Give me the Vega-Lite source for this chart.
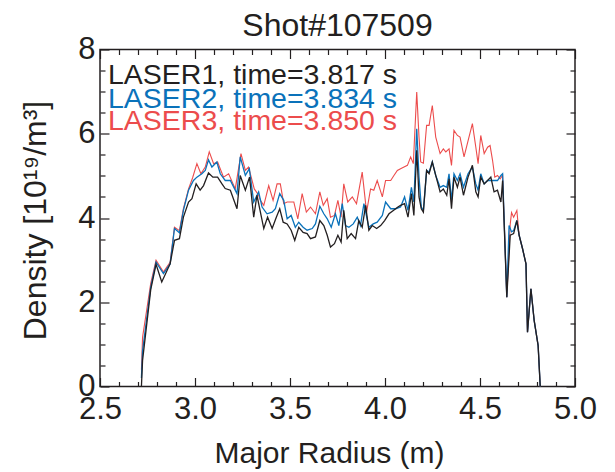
{
"$schema": "https://vega.github.io/schema/vega-lite/v6.json",
"width": 475, "height": 337,
"autosize": {"type": "none"},
"padding": {"left": 100, "top": 49.5, "right": 40, "bottom": 85.5},
"background": "white",
"title": {"text": "Shot#107509", "fontSize": 32, "font": "Liberation Sans", "fontWeight": "normal", "color": "#231f20", "anchor": "middle", "baseline": "alphabetic", "offset": -34},
"config": {
  "view": {"stroke": "#231f20", "strokeWidth": 1.5},
  "axis": {"grid": false, "domain": false, "tickColor": "#231f20", "tickWidth": 1.2, "labelFont": "Liberation Sans", "labelFontSize": 31, "labelColor": "#231f20", "titleFont": "Liberation Sans", "titleFontWeight": "normal", "titleColor": "#231f20"}
},
"datasets": {
"lines": [
{"s":"LASER1","r":2.718,"n":0},{"s":"LASER1","r":2.724,"n":0.62},{"s":"LASER1","r":2.767,"n":2.30},{"s":"LASER1","r":2.795,"n":2.90},{"s":"LASER1","r":2.825,"n":2.48},{"s":"LASER1","r":2.869,"n":2.91},{"s":"LASER1","r":2.892,"n":3.47},{"s":"LASER1","r":2.918,"n":3.51},{"s":"LASER1","r":2.939,"n":4.02},{"s":"LASER1","r":2.966,"n":4.38},{"s":"LASER1","r":2.984,"n":4.46},{"s":"LASER1","r":3.006,"n":4.81},{"s":"LASER1","r":3.027,"n":4.66},{"s":"LASER1","r":3.045,"n":4.77},{"s":"LASER1","r":3.071,"n":5.07},{"s":"LASER1","r":3.094,"n":4.97},{"s":"LASER1","r":3.119,"n":4.97},{"s":"LASER1","r":3.142,"n":4.81},{"s":"LASER1","r":3.159,"n":4.70},{"s":"LASER1","r":3.186,"n":4.66},{"s":"LASER1","r":3.221,"n":4.22},{"s":"LASER1","r":3.238,"n":5.01},{"s":"LASER1","r":3.265,"n":4.66},{"s":"LASER1","r":3.287,"n":4.97},{"s":"LASER1","r":3.309,"n":4.02},{"s":"LASER1","r":3.326,"n":4.54},{"s":"LASER1","r":3.362,"n":3.75},{"s":"LASER1","r":3.382,"n":4.02},{"s":"LASER1","r":3.406,"n":3.75},{"s":"LASER1","r":3.428,"n":4.02},{"s":"LASER1","r":3.446,"n":4.22},{"s":"LASER1","r":3.464,"n":3.90},{"s":"LASER1","r":3.485,"n":3.86},{"s":"LASER1","r":3.506,"n":3.71},{"s":"LASER1","r":3.525,"n":3.47},{"s":"LASER1","r":3.546,"n":3.78},{"s":"LASER1","r":3.569,"n":3.66},{"s":"LASER1","r":3.590,"n":3.63},{"s":"LASER1","r":3.608,"n":3.51},{"s":"LASER1","r":3.634,"n":3.55},{"s":"LASER1","r":3.657,"n":3.94},{"s":"LASER1","r":3.678,"n":3.82},{"s":"LASER1","r":3.696,"n":3.59},{"s":"LASER1","r":3.713,"n":3.31},{"s":"LASER1","r":3.734,"n":3.39},{"s":"LASER1","r":3.752,"n":3.59},{"s":"LASER1","r":3.769,"n":3.43},{"s":"LASER1","r":3.783,"n":4.18},{"s":"LASER1","r":3.801,"n":3.51},{"s":"LASER1","r":3.822,"n":3.63},{"s":"LASER1","r":3.845,"n":3.51},{"s":"LASER1","r":3.862,"n":3.94},{"s":"LASER1","r":3.880,"n":3.78},{"s":"LASER1","r":3.898,"n":4.30},{"s":"LASER1","r":3.915,"n":3.71},{"s":"LASER1","r":3.933,"n":3.82},{"s":"LASER1","r":3.956,"n":3.75},{"s":"LASER1","r":3.977,"n":3.82},{"s":"LASER1","r":3.998,"n":3.94},{"s":"LASER1","r":4.021,"n":4.10},{"s":"LASER1","r":4.044,"n":4.18},{"s":"LASER1","r":4.068,"n":4.26},{"s":"LASER1","r":4.082,"n":4.30},{"s":"LASER1","r":4.103,"n":4.34},{"s":"LASER1","r":4.121,"n":4.02},{"s":"LASER1","r":4.139,"n":4.58},{"s":"LASER1","r":4.152,"n":4.06},{"s":"LASER1","r":4.167,"n":5.61},{"s":"LASER1","r":4.179,"n":4.50},{"s":"LASER1","r":4.191,"n":4.22},{"s":"LASER1","r":4.202,"n":4.14},{"s":"LASER1","r":4.219,"n":5.13},{"s":"LASER1","r":4.232,"n":5.05},{"s":"LASER1","r":4.249,"n":5.33},{"s":"LASER1","r":4.267,"n":5.01},{"s":"LASER1","r":4.290,"n":4.62},{"s":"LASER1","r":4.307,"n":4.69},{"s":"LASER1","r":4.325,"n":4.54},{"s":"LASER1","r":4.337,"n":4.93},{"s":"LASER1","r":4.350,"n":4.22},{"s":"LASER1","r":4.363,"n":4.97},{"s":"LASER1","r":4.381,"n":4.73},{"s":"LASER1","r":4.395,"n":4.97},{"s":"LASER1","r":4.413,"n":4.54},{"s":"LASER1","r":4.437,"n":4.97},{"s":"LASER1","r":4.460,"n":5.25},{"s":"LASER1","r":4.478,"n":4.62},{"s":"LASER1","r":4.490,"n":4.50},{"s":"LASER1","r":4.504,"n":4.97},{"s":"LASER1","r":4.522,"n":4.81},{"s":"LASER1","r":4.540,"n":4.89},{"s":"LASER1","r":4.557,"n":4.97},{"s":"LASER1","r":4.574,"n":4.62},{"s":"LASER1","r":4.592,"n":4.66},{"s":"LASER1","r":4.610,"n":4.38},{"s":"LASER1","r":4.619,"n":4.89},{"s":"LASER1","r":4.641,"n":2.12},{"s":"LASER1","r":4.659,"n":3.59},{"s":"LASER1","r":4.677,"n":3.63},{"s":"LASER1","r":4.694,"n":3.94},{"s":"LASER1","r":4.706,"n":3.59},{"s":"LASER1","r":4.724,"n":3.27},{"s":"LASER1","r":4.742,"n":2.91},{"s":"LASER1","r":4.750,"n":1.29},{"s":"LASER1","r":4.768,"n":2.32},{"s":"LASER1","r":4.785,"n":1.57},{"s":"LASER1","r":4.806,"n":0.97},{"s":"LASER1","r":4.817,"n":0},
{"s":"LASER2","r":2.718,"n":0.2},{"s":"LASER2","r":2.724,"n":0.85},{"s":"LASER2","r":2.767,"n":2.36},{"s":"LASER2","r":2.795,"n":2.95},{"s":"LASER2","r":2.834,"n":2.68},{"s":"LASER2","r":2.869,"n":2.91},{"s":"LASER2","r":2.892,"n":3.75},{"s":"LASER2","r":2.918,"n":3.65},{"s":"LASER2","r":2.939,"n":4.18},{"s":"LASER2","r":2.966,"n":4.66},{"s":"LASER2","r":2.992,"n":4.89},{"s":"LASER2","r":3.010,"n":4.97},{"s":"LASER2","r":3.036,"n":5.05},{"s":"LASER2","r":3.054,"n":5.13},{"s":"LASER2","r":3.071,"n":5.38},{"s":"LASER2","r":3.089,"n":5.21},{"s":"LASER2","r":3.115,"n":5.33},{"s":"LASER2","r":3.133,"n":5.05},{"s":"LASER2","r":3.159,"n":4.89},{"s":"LASER2","r":3.186,"n":4.89},{"s":"LASER2","r":3.221,"n":4.58},{"s":"LASER2","r":3.238,"n":5.45},{"s":"LASER2","r":3.265,"n":5.01},{"s":"LASER2","r":3.286,"n":5.17},{"s":"LASER2","r":3.309,"n":4.38},{"s":"LASER2","r":3.335,"n":4.62},{"s":"LASER2","r":3.353,"n":4.26},{"s":"LASER2","r":3.379,"n":4.10},{"s":"LASER2","r":3.406,"n":4.14},{"s":"LASER2","r":3.423,"n":4.22},{"s":"LASER2","r":3.446,"n":4.58},{"s":"LASER2","r":3.467,"n":4.42},{"s":"LASER2","r":3.485,"n":3.98},{"s":"LASER2","r":3.506,"n":4.06},{"s":"LASER2","r":3.528,"n":3.78},{"s":"LASER2","r":3.546,"n":3.90},{"s":"LASER2","r":3.569,"n":3.78},{"s":"LASER2","r":3.590,"n":3.71},{"s":"LASER2","r":3.617,"n":3.75},{"s":"LASER2","r":3.634,"n":3.86},{"s":"LASER2","r":3.657,"n":4.28},{"s":"LASER2","r":3.678,"n":4.10},{"s":"LASER2","r":3.696,"n":3.98},{"s":"LASER2","r":3.717,"n":3.78},{"s":"LASER2","r":3.739,"n":4.10},{"s":"LASER2","r":3.757,"n":3.82},{"s":"LASER2","r":3.775,"n":4.34},{"s":"LASER2","r":3.792,"n":3.82},{"s":"LASER2","r":3.810,"n":3.78},{"s":"LASER2","r":3.833,"n":3.86},{"s":"LASER2","r":3.854,"n":4.02},{"s":"LASER2","r":3.871,"n":3.82},{"s":"LASER2","r":3.889,"n":4.34},{"s":"LASER2","r":3.915,"n":3.78},{"s":"LASER2","r":3.938,"n":3.86},{"s":"LASER2","r":3.959,"n":3.90},{"s":"LASER2","r":3.986,"n":4.06},{"s":"LASER2","r":4.003,"n":4.38},{"s":"LASER2","r":4.030,"n":4.22},{"s":"LASER2","r":4.056,"n":4.22},{"s":"LASER2","r":4.082,"n":4.26},{"s":"LASER2","r":4.103,"n":4.50},{"s":"LASER2","r":4.121,"n":4.18},{"s":"LASER2","r":4.139,"n":4.73},{"s":"LASER2","r":4.152,"n":4.38},{"s":"LASER2","r":4.167,"n":6.12},{"s":"LASER2","r":4.179,"n":4.97},{"s":"LASER2","r":4.191,"n":4.26},{"s":"LASER2","r":4.202,"n":4.18},{"s":"LASER2","r":4.219,"n":5.13},{"s":"LASER2","r":4.232,"n":5.09},{"s":"LASER2","r":4.249,"n":5.33},{"s":"LASER2","r":4.267,"n":5.01},{"s":"LASER2","r":4.290,"n":4.73},{"s":"LASER2","r":4.307,"n":4.77},{"s":"LASER2","r":4.325,"n":4.73},{"s":"LASER2","r":4.337,"n":5.05},{"s":"LASER2","r":4.350,"n":4.42},{"s":"LASER2","r":4.363,"n":5.05},{"s":"LASER2","r":4.381,"n":4.89},{"s":"LASER2","r":4.395,"n":5.05},{"s":"LASER2","r":4.413,"n":4.73},{"s":"LASER2","r":4.437,"n":5.05},{"s":"LASER2","r":4.460,"n":5.21},{"s":"LASER2","r":4.478,"n":4.81},{"s":"LASER2","r":4.490,"n":4.66},{"s":"LASER2","r":4.504,"n":5.05},{"s":"LASER2","r":4.522,"n":4.81},{"s":"LASER2","r":4.540,"n":4.89},{"s":"LASER2","r":4.557,"n":4.89},{"s":"LASER2","r":4.574,"n":4.89},{"s":"LASER2","r":4.592,"n":4.89},{"s":"LASER2","r":4.610,"n":5.01},{"s":"LASER2","r":4.619,"n":5.05},{"s":"LASER2","r":4.641,"n":2.12},{"s":"LASER2","r":4.653,"n":3.82},{"s":"LASER2","r":4.666,"n":3.67},{"s":"LASER2","r":4.677,"n":3.70},{"s":"LASER2","r":4.694,"n":3.94},{"s":"LASER2","r":4.706,"n":3.59},{"s":"LASER2","r":4.724,"n":3.27},{"s":"LASER2","r":4.742,"n":2.91},{"s":"LASER2","r":4.750,"n":1.29},{"s":"LASER2","r":4.768,"n":2.32},{"s":"LASER2","r":4.785,"n":1.57},{"s":"LASER2","r":4.806,"n":0.97},{"s":"LASER2","r":4.817,"n":0},
{"s":"LASER3","r":2.718,"n":0.4},{"s":"LASER3","r":2.724,"n":1.17},{"s":"LASER3","r":2.767,"n":2.45},{"s":"LASER3","r":2.795,"n":3.0},{"s":"LASER3","r":2.834,"n":2.72},{"s":"LASER3","r":2.869,"n":2.95},{"s":"LASER3","r":2.892,"n":3.78},{"s":"LASER3","r":2.918,"n":3.70},{"s":"LASER3","r":2.939,"n":4.22},{"s":"LASER3","r":2.966,"n":4.69},{"s":"LASER3","r":2.987,"n":4.95},{"s":"LASER3","r":3.010,"n":5.29},{"s":"LASER3","r":3.031,"n":5.05},{"s":"LASER3","r":3.054,"n":5.21},{"s":"LASER3","r":3.075,"n":5.57},{"s":"LASER3","r":3.098,"n":5.29},{"s":"LASER3","r":3.119,"n":5.33},{"s":"LASER3","r":3.150,"n":4.97},{"s":"LASER3","r":3.177,"n":5.05},{"s":"LASER3","r":3.212,"n":4.69},{"s":"LASER3","r":3.242,"n":5.53},{"s":"LASER3","r":3.265,"n":5.13},{"s":"LASER3","r":3.282,"n":5.21},{"s":"LASER3","r":3.312,"n":4.69},{"s":"LASER3","r":3.335,"n":4.54},{"s":"LASER3","r":3.344,"n":4.42},{"s":"LASER3","r":3.362,"n":4.30},{"s":"LASER3","r":3.388,"n":4.77},{"s":"LASER3","r":3.411,"n":4.42},{"s":"LASER3","r":3.432,"n":4.81},{"s":"LASER3","r":3.449,"n":4.81},{"s":"LASER3","r":3.467,"n":4.34},{"s":"LASER3","r":3.485,"n":4.38},{"s":"LASER3","r":3.520,"n":4.38},{"s":"LASER3","r":3.541,"n":3.98},{"s":"LASER3","r":3.564,"n":4.58},{"s":"LASER3","r":3.586,"n":4.14},{"s":"LASER3","r":3.608,"n":4.26},{"s":"LASER3","r":3.634,"n":4.10},{"s":"LASER3","r":3.657,"n":4.62},{"s":"LASER3","r":3.675,"n":4.30},{"s":"LASER3","r":3.696,"n":4.46},{"s":"LASER3","r":3.713,"n":4.02},{"s":"LASER3","r":3.734,"n":4.06},{"s":"LASER3","r":3.752,"n":4.42},{"s":"LASER3","r":3.769,"n":4.02},{"s":"LASER3","r":3.783,"n":4.81},{"s":"LASER3","r":3.804,"n":4.38},{"s":"LASER3","r":3.828,"n":4.50},{"s":"LASER3","r":3.850,"n":4.34},{"s":"LASER3","r":3.880,"n":5.09},{"s":"LASER3","r":3.903,"n":4.14},{"s":"LASER3","r":3.924,"n":4.69},{"s":"LASER3","r":3.941,"n":4.66},{"s":"LASER3","r":3.959,"n":4.89},{"s":"LASER3","r":3.986,"n":4.50},{"s":"LASER3","r":4.003,"n":4.89},{"s":"LASER3","r":4.030,"n":4.89},{"s":"LASER3","r":4.047,"n":5.01},{"s":"LASER3","r":4.065,"n":5.13},{"s":"LASER3","r":4.082,"n":5.17},{"s":"LASER3","r":4.100,"n":5.21},{"s":"LASER3","r":4.118,"n":5.25},{"s":"LASER3","r":4.135,"n":5.45},{"s":"LASER3","r":4.149,"n":5.29},{"s":"LASER3","r":4.167,"n":6.99},{"s":"LASER3","r":4.179,"n":5.92},{"s":"LASER3","r":4.188,"n":5.33},{"s":"LASER3","r":4.202,"n":5.30},{"s":"LASER3","r":4.219,"n":6.20},{"s":"LASER3","r":4.232,"n":6.20},{"s":"LASER3","r":4.249,"n":6.67},{"s":"LASER3","r":4.267,"n":5.92},{"s":"LASER3","r":4.290,"n":5.53},{"s":"LASER3","r":4.307,"n":5.64},{"s":"LASER3","r":4.320,"n":5.57},{"s":"LASER3","r":4.337,"n":5.64},{"s":"LASER3","r":4.350,"n":5.25},{"s":"LASER3","r":4.363,"n":6.08},{"s":"LASER3","r":4.381,"n":5.96},{"s":"LASER3","r":4.395,"n":5.92},{"s":"LASER3","r":4.416,"n":5.45},{"s":"LASER3","r":4.442,"n":5.92},{"s":"LASER3","r":4.460,"n":6.24},{"s":"LASER3","r":4.478,"n":5.68},{"s":"LASER3","r":4.490,"n":5.29},{"s":"LASER3","r":4.504,"n":5.96},{"s":"LASER3","r":4.522,"n":5.53},{"s":"LASER3","r":4.540,"n":5.68},{"s":"LASER3","r":4.553,"n":5.72},{"s":"LASER3","r":4.566,"n":5.37},{"s":"LASER3","r":4.578,"n":4.97},{"s":"LASER3","r":4.592,"n":5.01},{"s":"LASER3","r":4.606,"n":4.93},{"s":"LASER3","r":4.619,"n":5.01},{"s":"LASER3","r":4.641,"n":2.12},{"s":"LASER3","r":4.659,"n":3.85},{"s":"LASER3","r":4.666,"n":4.13},{"s":"LASER3","r":4.677,"n":4.02},{"s":"LASER3","r":4.694,"n":4.18},{"s":"LASER3","r":4.706,"n":3.59},{"s":"LASER3","r":4.724,"n":3.27},{"s":"LASER3","r":4.742,"n":2.91},{"s":"LASER3","r":4.750,"n":1.29},{"s":"LASER3","r":4.768,"n":2.32},{"s":"LASER3","r":4.785,"n":1.57},{"s":"LASER3","r":4.806,"n":0.97},{"s":"LASER3","r":4.817,"n":0}
],
"labels": [
{"s":"LASER1","r":2.542,"n":7.17,"t":"LASER1, time=3.817 s"},
{"s":"LASER2","r":2.542,"n":6.61,"t":"LASER2, time=3.834 s"},
{"s":"LASER3","r":2.542,"n":6.09,"t":"LASER3, time=3.850 s"}
]
},
"layer": [
{
  "data": {"name": "lines"},
  "transform": [{"filter": "datum.s === 'LASER3'"}],
  "mark": {"type": "line", "strokeWidth": 1.1},
  "encoding": {
    "x": {"field": "r", "type": "quantitative", "scale": {"domain": [2.5, 5.0], "nice": false, "zero": false},
      "axis": {"orient": "bottom", "values": [2.5, 3, 3.5, 4, 4.5, 5], "format": ".1f", "tickSize": -9, "labelPadding": 17, "labelFlush": false, "labelOverlap": false,
        "title": "Major Radius (m)", "titleFontSize": 30, "titleX": 229, "titleY": 76, "titleBaseline": "alphabetic", "titleAlign": "center"}},
    "y": {"field": "n", "type": "quantitative", "scale": {"domain": [0, 8], "nice": false, "zero": false},
      "axis": {"orient": "left", "values": [0, 2, 4, 6, 8], "tickSize": -9, "labelPadding": 14, "labelFlush": false, "labelOverlap": false,
        "title": "Density [10¹⁹/m³]", "titleFontSize": 32, "titleX": -65, "titleY": 170.5, "titleAngle": -90, "titleBaseline": "middle", "titleAlign": "center"}},
    "color": {"field": "s", "type": "nominal", "scale": {"domain": ["LASER1", "LASER2", "LASER3"], "range": ["#231f20", "#0a72ba", "#ec4c4c"]}, "legend": null}
  }
},
{
  "data": {"name": "lines"},
  "transform": [{"filter": "datum.s === 'LASER2'"}],
  "mark": {"type": "line", "strokeWidth": 1.3},
  "encoding": {
    "x": {"field": "r", "type": "quantitative",
      "axis": {"orient": "bottom", "values": [2.6,2.7,2.8,2.9,3.1,3.2,3.3,3.4,3.6,3.7,3.8,3.9,4.1,4.2,4.3,4.4,4.6,4.7,4.8,4.9], "tickSize": -5, "labels": false, "title": null}},
    "y": {"field": "n", "type": "quantitative",
      "axis": {"orient": "left", "values": [0.5,1,1.5,2.5,3,3.5,4.5,5,5.5,6.5,7,7.5], "tickSize": -5, "labels": false, "title": null}},
    "color": {"field": "s", "type": "nominal", "legend": null}
  }
},
{
  "data": {"name": "lines"},
  "transform": [{"filter": "datum.s === 'LASER1'"}],
  "mark": {"type": "line", "strokeWidth": 1.3},
  "encoding": {
    "x": {"field": "r", "type": "quantitative",
      "axis": {"orient": "top", "values": [2.5, 3, 3.5, 4, 4.5, 5], "tickSize": -9, "labels": false, "title": null}},
    "y": {"field": "n", "type": "quantitative",
      "axis": {"orient": "right", "values": [0, 2, 4, 6, 8], "tickSize": -9, "labels": false, "title": null}},
    "color": {"field": "s", "type": "nominal", "legend": null}
  }
},
{
  "data": {"name": "labels"},
  "mark": {"type": "text", "align": "left", "baseline": "alphabetic", "fontSize": 28.5, "font": "Liberation Sans"},
  "encoding": {
    "x": {"field": "r", "type": "quantitative",
      "axis": {"orient": "top", "values": [2.6,2.7,2.8,2.9,3.1,3.2,3.3,3.4,3.6,3.7,3.8,3.9,4.1,4.2,4.3,4.4,4.6,4.7,4.8,4.9], "tickSize": -5, "labels": false, "title": null}},
    "y": {"field": "n", "type": "quantitative",
      "axis": {"orient": "right", "values": [0.5,1,1.5,2.5,3,3.5,4.5,5,5.5,6.5,7,7.5], "tickSize": -5, "labels": false, "title": null}},
    "text": {"field": "t"},
    "color": {"field": "s", "type": "nominal", "legend": null}
  }
}
],
"resolve": {"axis": {"x": "independent", "y": "independent"}}
}
